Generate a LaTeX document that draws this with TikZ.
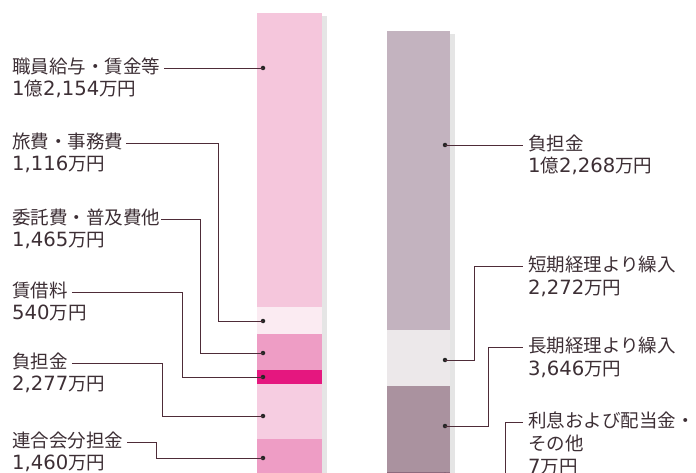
\documentclass[tikz,border=0pt]{standalone}
\usepackage{fontspec}
\setmainfont{Noto Sans CJK JP}
\newfontfamily\numf[Scale=1.06]{DejaVu Sans}
\newcommand\amt[1]{{\numf #1}}
\usepackage{xcolor}
\usepackage{tikz}

\definecolor{pinklt}{HTML}{F5C6DC}
\definecolor{pinkwh}{HTML}{FBEBF2}
\definecolor{pinkmd}{HTML}{EE9DC5}
\definecolor{pinkhot}{HTML}{E5177F}
\definecolor{pinklo}{HTML}{F6CDE1}
\definecolor{mauve}{HTML}{C3B3BF}
\definecolor{mauvelt}{HTML}{ECE8EA}
\definecolor{mauvedk}{HTML}{AA929F}
\definecolor{mauvedd}{HTML}{8C6A7E}
\definecolor{txtcol}{HTML}{3D2F35}
\definecolor{leadcol}{HTML}{4E2C38}

\begin{document}
\begin{tikzpicture}[x=1pt, y=-1pt,
    lbl/.style={anchor=west, inner sep=0pt, text=txtcol,
        font=\fontsize{18.5}{22}\selectfont, text height=14pt, text depth=3pt},
    lead/.style={draw=leadcol, line width=0.9pt},
    dot/.style={circle, fill=black!85, inner sep=0pt, minimum size=4.5pt}]
  \clip (0,0) rectangle (696,473);
  \fill[white] (0,0) rectangle (696,473);

  % expenditure bar
  \fill[black!10] (322,16) rectangle (327,480);
  \fill[pinklt] (257,13) rectangle (322,307);
  \fill[pinkwh] (257,307) rectangle (322,334);
  \fill[pinkmd] (257,334) rectangle (322,370);
  \fill[pinkhot] (257,370) rectangle (322,384);
  \fill[pinklo] (257,384) rectangle (322,439);
  \fill[pinkmd] (257,439) rectangle (322,480);

  % income bar
  \fill[black!10] (450,34) rectangle (455,480);
  \fill[mauve] (387,31) rectangle (450,330);
  \fill[mauvelt] (387,330) rectangle (450,386);
  \fill[mauvedk] (387,386) rectangle (450,472);
  \fill[mauvedd] (387,472) rectangle (450,480);

  % left labels
  \node[lbl] (sal) at (12,68) {職員給与・賃金等};
  \node[lbl] (sal2) at (12,90) {\amt{1}億\amt{2,154}万円};
  \node[lbl] (trv) at (12,143) {旅費・事務費};
  \node[lbl] (trv2) at (12,165) {\amt{1,116}万円};
  \node[lbl] (com) at (12,219) {委託費・普及費他};
  \node[lbl] (com2) at (12,241) {\amt{1,465}万円};
  \node[lbl] (rent) at (12,292) {賃借料};
  \node[lbl] (rent2) at (12,314) {\amt{540}万円};
  \node[lbl] (burd) at (12,363) {負担金};
  \node[lbl] (burd2) at (12,385) {\amt{2,277}万円};
  \node[lbl] (fed) at (12,442) {連合会分担金};
  \node[lbl] (fed2) at (12,464) {\amt{1,460}万円};

  % right labels
  \node[lbl] (rburd) at (528,145) {負担金};
  \node[lbl] (rburd2) at (528,167) {\amt{1}億\amt{2,268}万円};
  \node[lbl] (shrt) at (528,266) {短期経理より繰入};
  \node[lbl] (shrt2) at (528,289) {\amt{2,272}万円};
  \node[lbl] (lng) at (528,347) {長期経理より繰入};
  \node[lbl] (lng2) at (528,370) {\amt{3,646}万円};
  \node[lbl] (intr) at (528,422) {利息および配当金・};
  \node[lbl] (intr2) at (528,445) {その他};
  \node[lbl] (intr3) at (528,468) {\amt{7}万円};

  % dots
  \node[dot] (d-sal) at (263,68) {};
  \node[dot] (d-trv) at (263,321) {};
  \node[dot] (d-com) at (263,353) {};
  \node[dot] (d-rent) at (263,377) {};
  \node[dot] (d-burd) at (263,416) {};
  \node[dot] (d-fed) at (263,458) {};
  \node[dot] (d-rburd) at (445,145) {};
  \node[dot] (d-shrt) at (445,360) {};
  \node[dot] (d-lng) at (445,426) {};
  \node[dot] (d-intr) at (445,475) {};

  % leaders
  \draw[lead] ([xshift=4pt]sal.east) -- (d-sal.center);
  \draw[lead] ([xshift=3pt]trv.east) -| (218,321) -- (d-trv.center);
  \draw[lead] ([xshift=1pt]com.east) -| (200,353) -- (d-com.center);
  \draw[lead] ([xshift=4pt]rent.east) -| (182,377) -- (d-rent.center);
  \draw[lead] ([xshift=4pt]burd.east) -| (162,416) -- (d-burd.center);
  \draw[lead] ([xshift=4pt]fed.east) -| (156,458) -- (d-fed.center);
  \draw[lead] (d-rburd.center) -- ([xshift=-5pt]rburd.west);
  \draw[lead] (d-shrt.center) -| (474,266) -- ([xshift=-5pt]shrt.west);
  \draw[lead] (d-lng.center) -| (488,347) -- ([xshift=-5pt]lng.west);
  \draw[lead] (d-intr.center) -| (505,422) -- ([xshift=-5pt]intr.west);
\end{tikzpicture}
\end{document}
